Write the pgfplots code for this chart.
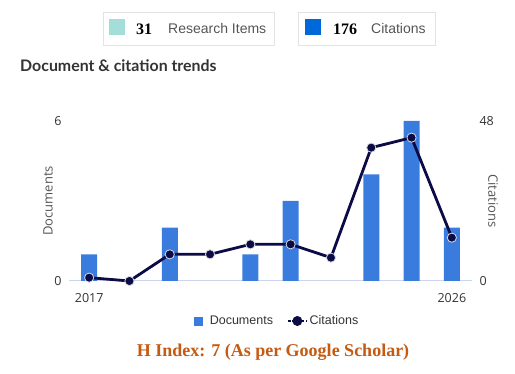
\documentclass[border=0pt]{standalone}
\usepackage{pgfplots}
\pgfplotsset{compat=1.18}
\usepackage{fontspec}
\setmainfont{Liberation Sans}
\newfontfamily\titlefont{Lato}
\newfontfamily\serifb{Liberation Serif}
\newfontfamily\tickfont{Open Sans}
\definecolor{barblue}{HTML}{3A7CDE}
\definecolor{navy}{HTML}{0B0B45}
\definecolor{axisline}{HTML}{CCD6EB}
\definecolor{tealsq}{HTML}{A3DEDB}
\definecolor{bluesq}{HTML}{0069D9}
\definecolor{hcolor}{HTML}{C55A11}
\definecolor{boxgray}{HTML}{E3E3E3}
\definecolor{txtgray}{HTML}{555555}
\definecolor{dark}{HTML}{333333}
\begin{document}
\begin{tikzpicture}[x=1pt,y=1pt]
\path[use as bounding box] (0,0) rectangle (515,374);
% top boxes
\draw[boxgray, line width=1pt] (103,374-12.5) rectangle (274,374-45.5);
\fill[tealsq] (109,374-19) rectangle (125,374-35.5);
\node[anchor=center, font=\serifb\bfseries\fontsize{16}{18}\selectfont] at (144,374-29) {31};
\node[anchor=west, inner sep=0pt, text=txtgray, font=\fontsize{14}{16}\selectfont] at (168,374-29) {Research Items};
\draw[boxgray, line width=1pt] (298,374-12.5) rectangle (435.5,374-45.5);
\fill[bluesq] (305,374-19) rectangle (321,374-35.5);
\node[anchor=center, font=\serifb\bfseries\fontsize{16}{18}\selectfont] at (345,374-29) {176};
\node[anchor=west, inner sep=0pt, text=txtgray, font=\fontsize{14}{16}\selectfont] at (371,374-29) {Citations};
% title
\node[anchor=west, inner sep=0pt, text=dark, font=\titlefont\bfseries\fontsize{15.9}{18}\selectfont] at (20,374-66) {Document \& citation trends};
% H index
\node[anchor=center, text=hcolor, font=\serifb\bfseries\fontsize{18}{20}\selectfont] at (273,374-352) {H Index: 7 (As per Google Scholar)};

\begin{axis}[
  at={(69pt,93pt)}, anchor=south west, scale only axis,
  width=403pt, height=160pt,
  xmin=2016.5, xmax=2026.5, ymin=0, ymax=6,
  clip=false,
  axis line style={draw=none},
  xtick={2017,2026}, xticklabels={2017,2026},
  ytick={0,6},
  major tick length=0pt,
  tick label style={font=\tickfont\fontsize{12.5}{14}\selectfont, text=dark},
  /pgf/number format/assume math mode=true,
  xticklabel style={yshift=-9pt},
  yticklabel style={xshift=-4pt},
  every axis y label/.style={at={(axis description cs:-0.052,0.5)}, rotate=90, anchor=center},
  ylabel={Documents},
  ylabel style={font=\tickfont\fontsize{13}{15}\selectfont, text=txtgray},
]
\draw[axisline, line width=1pt] (axis cs:2016.5,0) -- (axis cs:2026.5,0);
\addplot[ybar, bar width=16pt, fill=barblue, draw=none] coordinates {
(2017,1) (2019,2) (2021,1) (2022,3) (2024,4) (2025,6) (2026,2)};
\end{axis}

\begin{axis}[
  at={(69pt,93pt)}, anchor=south west, scale only axis,
  width=403pt, height=160pt,
  xmin=2016.5, xmax=2026.5, ymin=0, ymax=48,
  clip=false,
  axis line style={draw=none},
  xtick=\empty,
  ytick={0,48},
  yticklabel pos=right,
  major tick length=0pt,
  tick label style={font=\tickfont\fontsize{12.5}{14}\selectfont, text=dark},
  /pgf/number format/assume math mode=true,
  yticklabel style={xshift=4pt},
  every axis y label/.style={at={(axis description cs:1.052,0.5)}, rotate=-90, anchor=center},
  ylabel={Citations},
  ylabel style={font=\tickfont\fontsize{13}{15}\selectfont, text=txtgray},
  legend columns=2,
  legend style={at={(axis description cs:0.516,-0.25)}, anchor=center, draw=none, fill=none,
    font=\fontsize{12.5}{14}\selectfont, text=dark,
    /tikz/every even column/.append style={column sep=12pt}},
]
\addlegendimage{legend image code/.code={\fill[barblue] (0pt,-4pt) rectangle (8pt,4pt); \path[draw=none] (0pt,0pt) -- (14pt,0pt);}}
\addlegendentry{Documents}
\addplot[navy, line width=2.8pt, mark=*, mark size=4.6pt,
  mark options={fill=navy, draw=white!85!navy, line width=0.8pt},
  legend image code/.code={\draw[navy, line width=1.6pt, dash pattern=on 3pt off 1.5pt] (0pt,0pt) -- (19pt,0pt); \fill[navy] (9.5pt,0pt) circle (3.5pt);}]
coordinates {
(2017,1) (2018,0) (2019,8) (2020,8) (2021,11) (2022,11) (2023,7) (2024,40) (2025,43) (2026,13)};
\addlegendentry{Citations}
\end{axis}
\end{tikzpicture}
\end{document}
